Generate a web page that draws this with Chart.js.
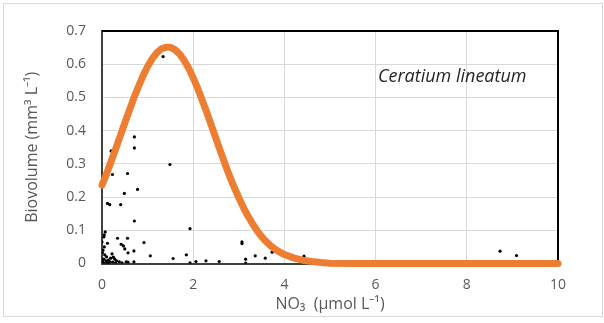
<!DOCTYPE html>
<html>
<head>
<meta charset="utf-8">
<script src="https://cdn.jsdelivr.net/npm/chart.js@4.4.1/dist/chart.umd.min.js"></script>
<style>
  html, body { margin: 0; padding: 0; background: #fff; }
  #wrap { position: relative; width: 604px; height: 323px; }
  #border { position: absolute; left: 3px; top: 3px; width: 598px; height: 312px; border: 1px solid #d9d9d9; pointer-events: none; }
</style>
</head>
<body>
<div id="wrap">
  <canvas id="chart" width="604" height="323"></canvas>
  <div id="border"></div>
</div>
<script>
// fitted curve (orange)
const fitX = [0, 0.1, 0.2, 0.3, 0.4, 0.5, 0.6, 0.7, 0.8, 0.9,
  1.0, 1.1, 1.2, 1.3, 1.4, 1.5, 1.6, 1.7, 1.8, 1.9,
  2.0, 2.1, 2.2, 2.3, 2.4, 2.5, 2.6, 2.7, 2.8, 2.9,
  3.0, 3.1, 3.2, 3.3, 3.4, 3.5, 3.6, 3.7, 3.8, 3.9,
  4.0, 4.2, 4.4, 4.6, 4.8, 5.0, 5.5, 6, 7, 8, 9, 10];
const fitY = [0.236, 0.270, 0.307, 0.345, 0.384, 0.423, 0.461, 0.499, 0.533, 0.565,
  0.593, 0.616, 0.634, 0.646, 0.651, 0.651, 0.644, 0.631, 0.612, 0.588,
  0.559, 0.527, 0.491, 0.454, 0.415, 0.376, 0.337, 0.299, 0.263, 0.229,
  0.198, 0.169, 0.143, 0.120, 0.099, 0.081, 0.066, 0.053, 0.043, 0.034,
  0.027, 0.017, 0.010, 0.006, 0.003, 0.001, 0, 0, 0, 0, 0, 0];

// observations (black dots)
const obsX = [1.34, 0.71, 0.71, 0.20, 1.49, 0.23, 0.56, 0.78, 0.49, 0.12, 0.17, 0.41, 0.71,
  1.93, 0.07, 0.05, 0.04, 0.34, 0.56, 0.12, 0.92, 0.42, 0.47, 0.50, 0.57, 0.70, 0.02, 0.01,
  1.06, 1.56, 1.85, 1.93, 2.06, 2.28, 2.57, 3.07, 3.07, 3.15, 3.15, 3.36, 3.58, 3.73, 4.43,
  8.73, 9.09,
  0.06, 0.10, 0.04, 0.09, 0.14, 0.19, 0.22, 0.25, 0.28, 0.32, 0.18, 0.38, 0.44, 0.53, 0.57,
  0.70, 0.00, 0.02, 0.03, 0.08, 0.12, 0.15, 0.24, 0.30, 0.05, 0.00];
const obsY = [0.623, 0.381, 0.348, 0.339, 0.298, 0.268, 0.271, 0.223, 0.211, 0.181, 0.177, 0.177, 0.128,
  0.105, 0.095, 0.086, 0.080, 0.076, 0.076, 0.061, 0.063, 0.058, 0.053, 0.044, 0.032, 0.038, 0.040, 0.033,
  0.023, 0.015, 0.026, 0.002, 0.006, 0.008, 0.006, 0.065, 0.060, 0.013, 0.001, 0.023, 0.016, 0.034, 0.022,
  0.037, 0.024,
  0.026, 0.020, 0.013, 0.008, 0.010, 0.016, 0.029, 0.019, 0.013, 0.008, 0.005, 0.005, 0.002, 0.005, 0.004,
  0.005, 0.010, 0.004, 0.001, 0.002, 0.003, 0.001, 0.004, 0.002, 0.050, 0.065];

const xTicks = [0, 2, 4, 6, 8, 10];
const yTicks = [0, 0.1, 0.2, 0.3, 0.4, 0.5, 0.6, 0.7];
const speciesName = 'Ceratium lineatum';

const txt = '#595959';
const fontFam = '"Open Sans", sans-serif';

const framePlugin = {
  id: 'framePlugin',
  beforeDatasetsDraw(chart) {
    const { ctx, chartArea: a } = chart;
    ctx.save();
    ctx.strokeStyle = '#000';
    ctx.lineWidth = 2;
    ctx.beginPath();
    ctx.moveTo(a.left, a.top);
    ctx.lineTo(a.right, a.top);
    ctx.lineTo(a.right, a.bottom);
    ctx.stroke();
    ctx.restore();
  },
  afterDatasetsDraw(chart) {
    const { ctx, scales } = chart;
    ctx.save();
    ctx.font = 'italic 18px ' + fontFam;
    ctx.fillStyle = '#262626';
    ctx.textAlign = 'left';
    ctx.textBaseline = 'middle';
    ctx.fillText(speciesName, scales.x.getPixelForValue(6.05), scales.y.getPixelForValue(0.562));
    ctx.restore();
  }
};

new Chart(document.getElementById('chart'), {
  type: 'scatter',
  data: {
    datasets: [{
      label: 'fit',
      type: 'line',
      data: fitX.map((x, i) => ({ x: x, y: fitY[i] })),
      borderColor: '#ED7D31',
      borderWidth: 7,
      borderCapStyle: 'round',
      borderJoinStyle: 'round',
      pointRadius: 0,
      fill: false,
      clip: false
    }, {
      label: 'obs',
      data: obsX.map((x, i) => ({ x: x, y: obsY[i] })),
      backgroundColor: '#000',
      borderColor: '#000',
      pointRadius: 1.6,
      borderWidth: 0
    }]
  },
  options: {
    responsive: false,
    animation: false,
    layout: { padding: { top: 31, right: 46, left: 0, bottom: 0 } },
    plugins: { legend: { display: false }, tooltip: { enabled: false } },
    scales: {
      x: {
        type: 'linear',
        min: 0, max: 10,
        afterFit(scale) { scale.height = 59.5; },
        afterBuildTicks(scale) { scale.ticks = xTicks.map(v => ({ value: v })); },
        ticks: { color: txt, font: { family: fontFam, size: 14 }, padding: 13, maxRotation: 0 },
        grid: { color: '#d9d9d9', lineWidth: 1, drawTicks: false },
        border: { color: '#404040', width: 2 },
        title: { display: true, text: 'NO₃  (µmol L⁻¹)', color: txt, font: { family: fontFam, size: 16 }, padding: { top: 0, bottom: 9 } }
      },
      y: {
        min: 0, max: 0.7,
        afterFit(scale) { scale.width = 102; },
        afterBuildTicks(scale) { scale.ticks = yTicks.map(v => ({ value: v })); },
        ticks: { color: txt, font: { family: fontFam, size: 14 }, padding: 16 },
        grid: { color: '#d9d9d9', lineWidth: 1, drawTicks: false },
        border: { color: '#404040', width: 2 },
        title: { display: true, text: 'Biovolume (mm³ L⁻¹)', color: txt, font: { family: fontFam, size: 16 }, padding: { top: 23, bottom: 0 } }
      }
    }
  },
  plugins: [framePlugin]
});
</script>
</body>
</html>
